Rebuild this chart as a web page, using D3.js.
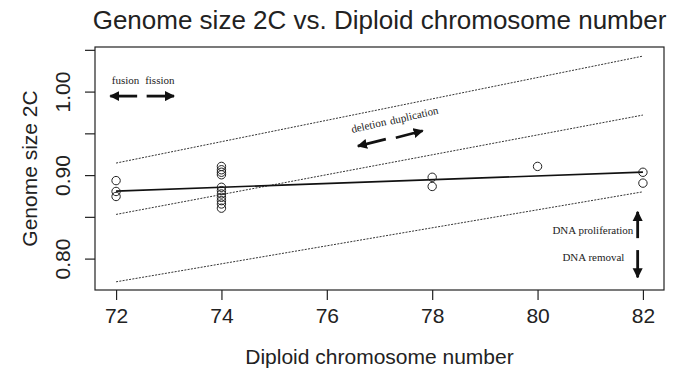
<!DOCTYPE html>
<html>
<head>
<meta charset="utf-8">
<script src="https://cdn.jsdelivr.net/npm/d3@7"></script>
<style>
  body { margin: 0; background: #fff; }
  svg { font-family: "Liberation Sans", Arial, sans-serif; }
</style>
</head>
<body>
<svg></svg>
<script>
// observed points
const chromNumbers = [72, 72, 72,
                      74, 74, 74, 74, 74, 74, 74, 74, 74, 74, 74,
                      78, 78, 80, 82, 82];
const genomeSizes = [0.894, 0.881, 0.875,
                     0.911, 0.907, 0.904, 0.901, 0.886, 0.882, 0.878, 0.874, 0.870, 0.866, 0.861,
                     0.898, 0.887, 0.911, 0.904, 0.891];

// fitted line and the three dotted bands, value at x=72 and x=82
const lineX = [72, 82];
const fitLine = [0.8814, 0.9042];
const upperBand = [0.915, 1.0431];
const middleBand = [0.8535, 0.9725];
const lowerBand = [0.7728, 0.8806];

const xTicks = [72, 74, 76, 78, 80, 82];
const yTicks = [0.80, 0.85, 0.90, 0.95, 1.00, 1.05];
const yLabels = [0.80, 0.90, 1.00];

// annotation arrows [x1, y1, x2, y2] in data units, head at second point
const arrows = [
  [72.40, 0.9952, 71.89, 0.9952],
  [72.58, 0.9952, 73.10, 0.9952],
  [77.12, 0.9437, 76.59, 0.9353],
  [77.31, 0.9453, 77.82, 0.9537],
  [81.90, 0.8251, 81.90, 0.8566],
  [81.90, 0.8108, 81.90, 0.7781]
];
const notes = [
  {text: "fusion", x: 72.18, y: 1.0096, rot: 0},
  {text: "fission", x: 72.83, y: 1.0096, rot: 0},
  {text: "deletion", x: 76.81, y: 0.9557, rot: -13},
  {text: "duplication", x: 77.67, y: 0.9677, rot: -13},
  {text: "DNA proliferation", x: 81.05, y: 0.830, rot: 0},
  {text: "DNA removal", x: 81.06, y: 0.7976, rot: 0}
];

const w = 680;
const h = 371;
const plotL = 95, plotR = 664, plotT = 47, plotB = 290;

const svg = d3.select("svg")
              .attr("width", w)
              .attr("height", h);

const xScale = d3.scaleLinear()
                 .domain([71.6, 82.4])
                 .range([plotL, plotR]);

const yScale = d3.scaleLinear()
                 .domain([0.763, 1.054])
                 .range([plotB, plotT]);

svg.append("defs").append("marker")
   .attr("id", "head")
   .attr("viewBox", "0 0 10 10")
   .attr("refX", 9)
   .attr("refY", 5)
   .attr("markerWidth", 3.6)
   .attr("markerHeight", 3.8)
   .attr("orient", "auto")
   .append("path")
   .attr("d", "M0,0 L10,5 L0,10 z")
   .attr("fill", "#111");

// box
svg.append("rect")
   .attr("x", plotL)
   .attr("y", plotT)
   .attr("width", plotR - plotL)
   .attr("height", plotB - plotT)
   .attr("fill", "none")
   .attr("stroke", "#222")
   .attr("stroke-width", 1.2);

// x axis
const xAxis = d3.axisBottom(xScale)
                .tickValues(xTicks)
                .tickSize(10)
                .tickPadding(8)
                .tickFormat(d3.format("d"));

const gx = svg.append("g")
   .attr("transform", "translate(0," + plotB + ")")
   .call(xAxis);
gx.select(".domain").remove();
gx.selectAll("line").attr("stroke", "#222").attr("stroke-width", 1.2);
gx.selectAll("text")
  .attr("font-size", 21)
  .attr("fill", "#222")
  .attr("font-family", "Liberation Sans, Arial, sans-serif");

// y axis
const gy = svg.append("g");
gy.selectAll("line")
  .data(yTicks)
  .enter()
  .append("line")
  .attr("x1", plotL - 10)
  .attr("x2", plotL)
  .attr("y1", d => yScale(d))
  .attr("y2", d => yScale(d))
  .attr("stroke", "#222")
  .attr("stroke-width", 1.2);

gy.selectAll("text")
  .data(yLabels)
  .enter()
  .append("text")
  .attr("transform", d => "translate(70," + yScale(d) + ") rotate(-90)")
  .attr("text-anchor", "middle")
  .attr("font-size", 21)
  .attr("fill", "#222")
  .text(d => d3.format(".2f")(d));

// dotted bands
[upperBand, middleBand, lowerBand].forEach(band => {
  svg.append("line")
     .attr("x1", xScale(lineX[0]))
     .attr("y1", yScale(band[0]))
     .attr("x2", xScale(lineX[1]))
     .attr("y2", yScale(band[1]))
     .attr("stroke", "#333")
     .attr("stroke-width", 1)
     .attr("stroke-dasharray", "2,1.3");
});

// fitted line
svg.append("line")
   .attr("x1", xScale(lineX[0]))
   .attr("y1", yScale(fitLine[0]))
   .attr("x2", xScale(lineX[1]))
   .attr("y2", yScale(fitLine[1]))
   .attr("stroke", "#111")
   .attr("stroke-width", 1.6);

// points
svg.selectAll("circle")
   .data(chromNumbers)
   .enter()
   .append("circle")
   .attr("cx", d => xScale(d))
   .attr("cy", (d, i) => yScale(genomeSizes[i]))
   .attr("r", 4.2)
   .attr("fill", "none")
   .attr("stroke", "#222")
   .attr("stroke-width", 1);

// annotations
svg.selectAll("line.arrow")
   .data(arrows)
   .enter()
   .append("line")
   .attr("class", "arrow")
   .attr("x1", d => xScale(d[0]))
   .attr("y1", d => yScale(d[1]))
   .attr("x2", d => xScale(d[2]))
   .attr("y2", d => yScale(d[3]))
   .attr("stroke", "#111")
   .attr("stroke-width", 2.8)
   .attr("marker-end", "url(#head)");

svg.selectAll("text.note")
   .data(notes)
   .enter()
   .append("text")
   .attr("class", "note")
   .attr("transform", d => "translate(" + xScale(d.x) + "," + yScale(d.y) + ") rotate(" + d.rot + ")")
   .attr("text-anchor", "middle")
   .attr("font-family", "Liberation Serif, Times New Roman, serif")
   .attr("font-size", 11)
   .attr("fill", "#222")
   .text(d => d.text);

// titles
svg.append("text")
   .attr("x", (plotL + plotR) / 2)
   .attr("y", 29)
   .attr("text-anchor", "middle")
   .attr("font-size", 26)
   .attr("fill", "#222")
   .text("Genome size 2C vs. Diploid chromosome number");

svg.append("text")
   .attr("x", (plotL + plotR) / 2)
   .attr("y", 364)
   .attr("text-anchor", "middle")
   .attr("font-size", 21)
   .attr("fill", "#222")
   .text("Diploid chromosome number");

svg.append("text")
   .attr("transform", "translate(37," + (plotT + plotB) / 2 + ") rotate(-90)")
   .attr("text-anchor", "middle")
   .attr("font-size", 21)
   .attr("fill", "#222")
   .text("Genome size 2C");
</script>
</body>
</html>
